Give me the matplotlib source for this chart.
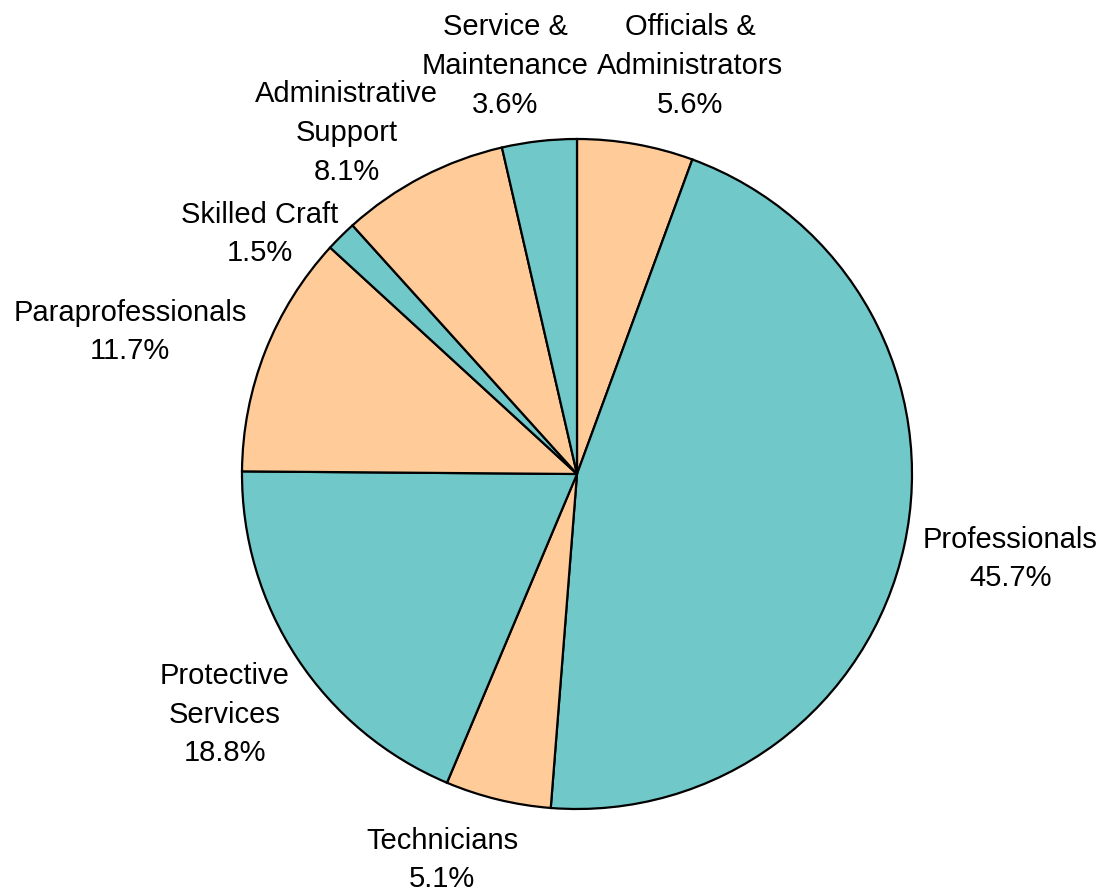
import matplotlib
matplotlib.use("Agg")
import matplotlib.pyplot as plt

plt.rcParams['font.family'] = ['Liberation Sans', 'DejaVu Sans']

# Workforce share by job category (percent), clockwise from 12 o'clock
categories = [
    'Officials &\nAdministrators',
    'Professionals',
    'Technicians',
    'Protective\nServices',
    'Paraprofessionals',
    'Skilled Craft',
    'Administrative\nSupport',
    'Service &\nMaintenance',
]
shares = [5.6, 45.7, 5.1, 18.8, 11.7, 1.5, 8.1, 3.6]

peach = '#FFCC99'
teal = '#70C8C8'
colors = [peach, teal, peach, teal, peach, teal, peach, teal]

# label anchor points, in pie-radius units from the centre
label_pos = [
    (0.337, 1.218),
    (1.293, -0.254),
    (-0.403, -1.152),
    (-1.051, -0.719),
    (-1.334, 0.424),
    (-0.946, 0.716),
    (-0.687, 1.018),
    (-0.215, 1.218),
]

fig = plt.figure(figsize=(11.04, 8.93), dpi=100)
ax = fig.add_axes([0, 0, 1, 1])

ax.pie(shares, colors=colors, startangle=90, counterclock=False,
       radius=1.0, wedgeprops=dict(edgecolor='black', linewidth=1.6))

for name, val, (x, y) in zip(categories, shares, label_pos):
    ax.text(x, y, f'{name}\n{val:.1f}%', ha='center', va='center',
            fontsize=21, linespacing=1.48, color='black')

# 335 px per radius unit, centre at (577, 474) from the top-left corner
ax.set_xlim(-577 / 335, (1104 - 577) / 335)
ax.set_ylim(-(893 - 474) / 335, 474 / 335)
ax.set_aspect('equal')
ax.axis('off')

plt.savefig('out.png', dpi=100)
